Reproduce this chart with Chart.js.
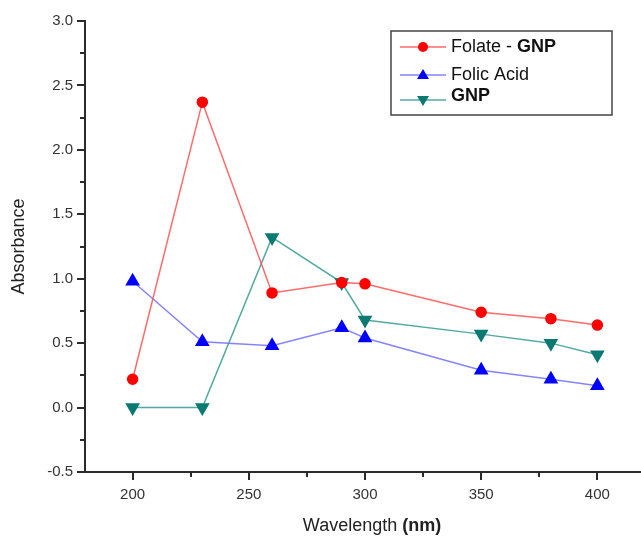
<!DOCTYPE html>
<html>
<head>
<meta charset="utf-8">
<script src="https://cdn.jsdelivr.net/npm/chart.js@4/dist/chart.umd.min.js"></script>
<style>
  html, body { margin: 0; padding: 0; background: #fff; overflow: hidden; }
  #wrap { width: 641px; height: 541px; overflow: hidden; }
</style>
</head>
<body>
<div id="wrap"><canvas id="absChart" width="650" height="541"></canvas></div>
<script>
// Wavelength (nm) and absorbance readings
const wavelengths = [200, 230, 260, 290, 300, 350, 380, 400];
const folateGnp   = [0.22, 2.37, 0.89, 0.97, 0.96, 0.74, 0.69, 0.64];
const folicAcid   = [0.98, 0.51, 0.48, 0.62, 0.54, 0.29, 0.22, 0.17];
const gnp         = [0.00, 0.00, 1.32, 0.97, 0.68, 0.57, 0.50, 0.41];

const xMajorTicks = [200, 250, 300, 350, 400];
const xMinorTicks = [225, 275, 325, 375];
const yMajorTicks = [-0.5, 0.0, 0.5, 1.0, 1.5, 2.0, 2.5, 3.0];
const yMinorTicks = [-0.25, 0.25, 0.75, 1.25, 1.75, 2.25, 2.75];

const FONT = '"Liberation Sans", Arial, sans-serif';
const AXIS = '#2b2b2b';

const toPoints = (ys) => wavelengths.map((x, i) => ({ x, y: ys[i] }));

const seriesDefs = [
    { label: 'Folate - ', bold: 'GNP', data: folateGnp, line: 'rgba(255,80,80,0.85)', fill: '#ff0000', style: 'circle', radius: 5, rotation: 0 },
    { label: 'Folic Acid', bold: '', data: folicAcid, line: 'rgba(110,110,255,0.85)', fill: '#0000ff', style: 'triangle', radius: 7, rotation: 0 },
    { label: '', bold: 'GNP', data: gnp, line: 'rgba(50,155,145,0.85)', fill: '#0a7a72', style: 'triangle', radius: 7, rotation: 180 }
];

// tick marks, axis titles and the boxed legend
const decorations = {
    id: 'decorations',
    afterDraw(chart) {
        const { ctx, scales: { x, y } } = chart;
        const area = chart.chartArea;
        ctx.save();
        ctx.strokeStyle = AXIS;
        ctx.lineWidth = 2;
        ctx.beginPath();
        xMajorTicks.forEach(v => { const px = Math.round(x.getPixelForValue(v)); ctx.moveTo(px, area.bottom); ctx.lineTo(px, area.bottom + 8); });
        xMinorTicks.forEach(v => { const px = Math.round(x.getPixelForValue(v)); ctx.moveTo(px, area.bottom); ctx.lineTo(px, area.bottom + 5); });
        yMajorTicks.forEach(v => { const py = Math.round(y.getPixelForValue(v)); ctx.moveTo(area.left, py); ctx.lineTo(area.left - 8, py); });
        yMinorTicks.forEach(v => { const py = Math.round(y.getPixelForValue(v)); ctx.moveTo(area.left, py); ctx.lineTo(area.left - 5, py); });
        ctx.stroke();

        // y title
        ctx.fillStyle = '#222';
        ctx.font = '18px ' + FONT;
        ctx.textAlign = 'center';
        ctx.textBaseline = 'middle';
        ctx.save();
        ctx.translate(19, (area.top + area.bottom) / 2);
        ctx.rotate(-Math.PI / 2);
        ctx.fillText('Absorbance', 0, 0);
        ctx.restore();

        // x title with bold unit
        const part1 = 'Wavelength ';
        const part2 = '(nm)';
        ctx.font = '18px ' + FONT;
        const w1 = ctx.measureText(part1).width;
        ctx.font = 'bold 18px ' + FONT;
        const w2 = ctx.measureText(part2).width;
        const tx = 372 - (w1 + w2) / 2;
        ctx.textAlign = 'left';
        ctx.font = '18px ' + FONT;
        ctx.fillText(part1, tx, 526);
        ctx.font = 'bold 18px ' + FONT;
        ctx.fillText(part2, tx + w1, 526);

        // legend box
        const bx = 391, by = 31, bw = 221, bh = 84;
        ctx.fillStyle = '#fff';
        ctx.fillRect(bx, by, bw, bh);
        ctx.strokeStyle = '#444';
        ctx.lineWidth = 1.5;
        ctx.strokeRect(bx, by, bw, bh);
        const rows = [47, 75, 100];
        seriesDefs.forEach((s, i) => {
            const ry = rows[i];
            ctx.strokeStyle = s.line;
            ctx.lineWidth = 1.5;
            ctx.beginPath();
            ctx.moveTo(400, ry);
            ctx.lineTo(446, ry);
            ctx.stroke();
            ctx.fillStyle = s.fill;
            ctx.beginPath();
            if (s.style === 'circle') {
                ctx.arc(423, ry, 5, 0, Math.PI * 2);
            } else if (s.rotation === 0) {
                ctx.moveTo(423, ry - 6); ctx.lineTo(429, ry + 4); ctx.lineTo(417, ry + 4);
            } else {
                ctx.moveTo(423, ry + 6); ctx.lineTo(429, ry - 4); ctx.lineTo(417, ry - 4);
            }
            ctx.closePath();
            ctx.fill();

            ctx.fillStyle = '#111';
            ctx.textBaseline = 'middle';
            let lx = 451;
            if (s.label) {
                ctx.font = '18px ' + FONT;
                ctx.fillText(s.label, lx, ry);
                lx += ctx.measureText(s.label).width;
            }
            if (s.bold) {
                ctx.font = 'bold 18px ' + FONT;
                ctx.fillText(s.bold, lx, ry - (i === 2 ? 4 : 0));
            }
        });
        ctx.restore();
    }
};

const ctx = document.getElementById('absChart').getContext('2d');
new Chart(ctx, {
    type: 'line',
    data: {
        datasets: seriesDefs.map(s => ({
            label: s.label + s.bold,
            data: toPoints(s.data),
            borderColor: s.line,
            borderWidth: 1.5,
            backgroundColor: s.fill,
            pointBackgroundColor: s.fill,
            pointBorderColor: s.fill,
            pointStyle: s.style,
            pointRadius: s.radius,
            pointRotation: s.rotation,
            tension: 0,
            fill: false
        }))
    },
    options: {
        responsive: false,
        animation: false,
        layout: { padding: { top: 21, right: 0, left: 0, bottom: 0 } },
        plugins: {
            legend: { display: false },
            tooltip: { enabled: false }
        },
        scales: {
            x: {
                type: 'linear',
                min: 179.5,
                max: 419,
                afterFit: (scale) => { scale.height = 69; },
                afterBuildTicks: (scale) => { scale.ticks = xMajorTicks.map(v => ({ value: v })); },
                grid: { display: false, drawTicks: false },
                border: { display: true, color: AXIS, width: 2 },
                ticks: {
                    padding: 14,
                    color: '#333',
                    font: { family: FONT, size: 15 },
                    callback: (v) => String(v)
                }
            },
            y: {
                type: 'linear',
                min: -0.5,
                max: 3.0,
                afterFit: (scale) => { scale.width = 85; },
                afterBuildTicks: (scale) => { scale.ticks = yMajorTicks.map(v => ({ value: v })); },
                grid: { display: false, drawTicks: false },
                border: { display: true, color: AXIS, width: 2 },
                ticks: {
                    padding: 12,
                    color: '#333',
                    font: { family: FONT, size: 15 },
                    callback: (v) => Number(v).toFixed(1)
                }
            }
        }
    },
    plugins: [decorations]
});
</script>
</body>
</html>
